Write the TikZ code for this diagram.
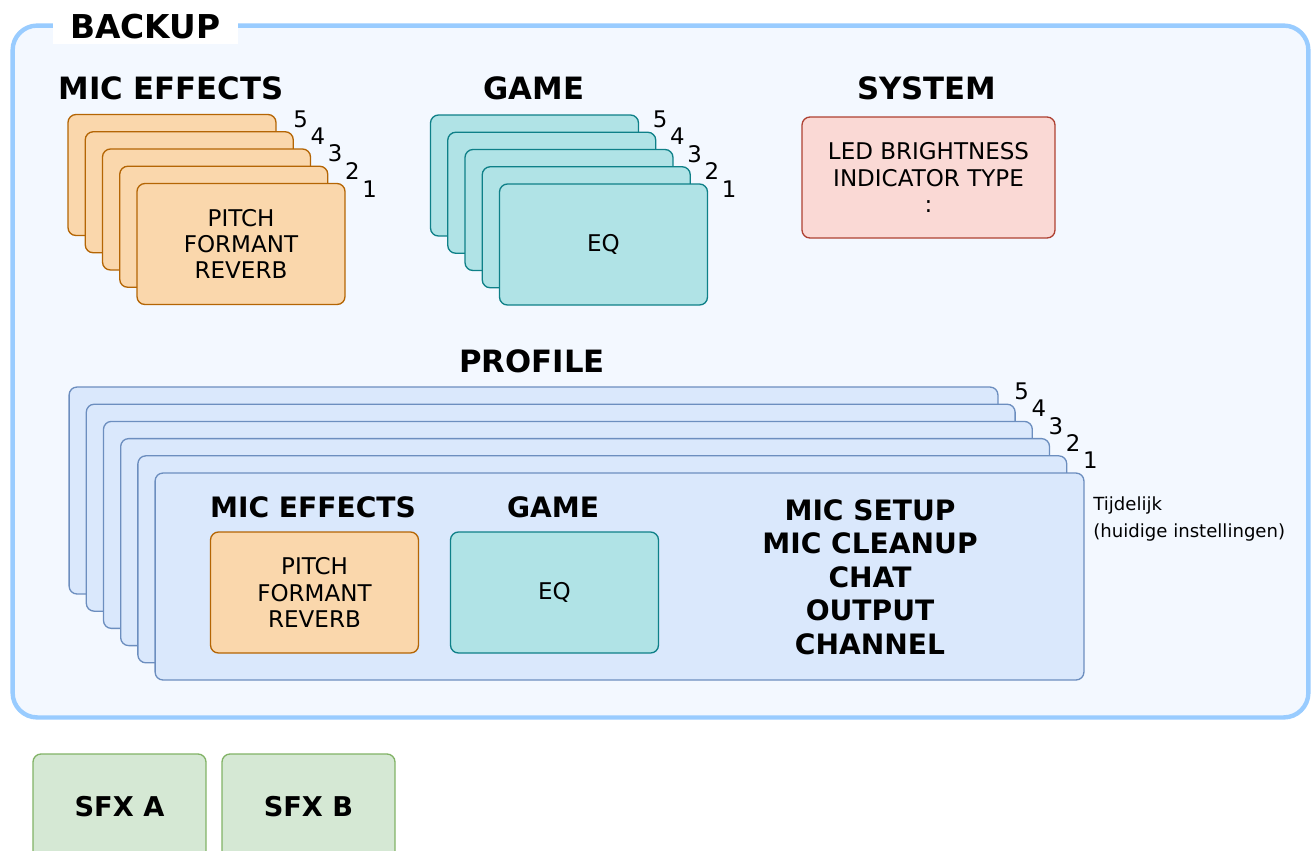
\documentclass[tikz,border=0pt]{standalone}
\usepackage{fontspec}
\setmainfont{DejaVu Sans}
\usepackage{xcolor}
\usetikzlibrary{calc}

\definecolor{bkfill}{HTML}{F3F8FF}
\definecolor{bkline}{HTML}{99CCFF}
\definecolor{mfxfill}{HTML}{FAD7AC}
\definecolor{mfxline}{HTML}{B46504}
\definecolor{gmfill}{HTML}{B0E3E6}
\definecolor{gmline}{HTML}{0E8088}
\definecolor{sysfill}{HTML}{FAD9D5}
\definecolor{sysline}{HTML}{AE4132}
\definecolor{proffill}{HTML}{DAE8FC}
\definecolor{profline}{HTML}{6C8EBF}
\definecolor{sfxfill}{HTML}{D5E8D4}
\definecolor{sfxline}{HTML}{82B366}

\begin{document}
\begin{tikzpicture}[
  x=0.02cm, y=-0.02cm,
  card/.style={
    rectangle, rounded corners=4.5pt, line width=0.75pt,
    minimum width=4.16cm, minimum height=2.42cm, align=center,
    inner sep=0pt, font=\fontsize{13.1}{15}\selectfont
  },
  mfx/.style={card, draw=mfxline, fill=mfxfill},
  gm/.style={card, draw=gmline, fill=gmfill},
  sys/.style={card, draw=sysline, fill=sysfill, minimum width=5.06cm},
  prof/.style={card, draw=profline, fill=proffill,
    minimum width=18.58cm, minimum height=4.14cm},
  sfx/.style={card, draw=sfxline, fill=sfxfill,
    minimum width=3.46cm, minimum height=2.12cm,
    font=\fontsize{15.5}{19}\selectfont\bfseries},
  backup/.style={
    rectangle, rounded corners=14pt, draw=bkline, line width=2.5pt,
    fill=bkfill, minimum width=25.92cm, minimum height=13.84cm
  },
  hdr/.style={font=\fontsize{17.5}{21}\selectfont\bfseries, inner sep=0pt},
  subhdr/.style={font=\fontsize{16}{19}\selectfont\bfseries,
    inner sep=0pt, align=center},
  num/.style={font=\fontsize{13}{15}\selectfont, inner sep=0pt},
  note/.style={font=\fontsize{10.3}{15.9}\selectfont, inner sep=0pt,
    align=left, anchor=west}
]
\useasboundingbox[fill=white] (0,0) rectangle (1311,850);

% Backup container with its title
\node[backup] (backup) at (660.5,371.5) {};
\node[hdr, font=\fontsize{18.7}{21}\selectfont\bfseries, fill=white,
  minimum width=3.7cm, minimum height=0.66cm]
  (backuptitle) at (145.5,27) {BACKUP};

% Mic effects presets
\node[hdr] (mfxhdr) at (171,88) {MIC EFFECTS};
\foreach \i in {5,...,2} {
  \pgfmathsetmacro\d{17.25*(\i-1)}
  \node[mfx] (mfx\i) at (241-\d,244-\d) {};
  \node[num] (mfxn\i) at ($(mfx\i.north east)+(24,5)$) {\i};
}
\node[mfx] (mfx1) at (241,244) {PITCH\\FORMANT\\REVERB};
\node[num] (mfxn1) at ($(mfx1.north east)+(24,6)$) {1};

% Game presets
\node[hdr] (gmhdr) at (534,88) {GAME};
\foreach \i in {5,...,2} {
  \pgfmathsetmacro\d{17.25*(\i-1)}
  \node[gm] (gm\i) at (603.5-\d,244.5-\d) {};
  \node[num] (gmn\i) at ($(gm\i.north east)+(21,5)$) {\i};
}
\node[gm] (gm1) at (603.5,244.5) {EQ};
\node[num] (gmn1) at ($(gm1.north east)+(21,6)$) {1};

% System settings
\node[hdr] (syshdr) at (927,88) {SYSTEM};
\node[sys] (sys) at (928.5,177.5) {LED BRIGHTNESS\\INDICATOR TYPE\\:};

% Profiles
\node[hdr] (profhdr) at (532,361) {PROFILE};
\foreach \i in {5,...,1} {
  \pgfmathsetmacro\d{17.2*\i}
  \node[prof] (prof\i) at (619.5-\d,576.5-\d) {};
  \node[num] (profn\i) at ($(prof\i.north east)+(23,5)$) {\i};
}
\node[prof] (prof0) at (619.5,576.5) {};
\node[note] (tijd) at (1093,519)
  {Tijdelijk\\(huidige instellingen)};

% Contents of the current profile
\node[subhdr] (pmfxhdr) at (313,507) {MIC EFFECTS};
\node[mfx] (pmfx) at (314.5,592.5) {PITCH\\FORMANT\\REVERB};
\node[subhdr] (pgmhdr) at (553,507) {GAME};
\node[gm] (pgm) at (554.5,592.5) {EQ};
\node[subhdr] (prest) at (870,577)
  {MIC SETUP\\MIC CLEANUP\\CHAT\\OUTPUT\\CHANNEL};

% Sound effects banks
\node[sfx] (sfxa) at (119.5,807) {SFX A};
\node[sfx] (sfxb) at (308.5,807) {SFX B};

\end{tikzpicture}
\end{document}
